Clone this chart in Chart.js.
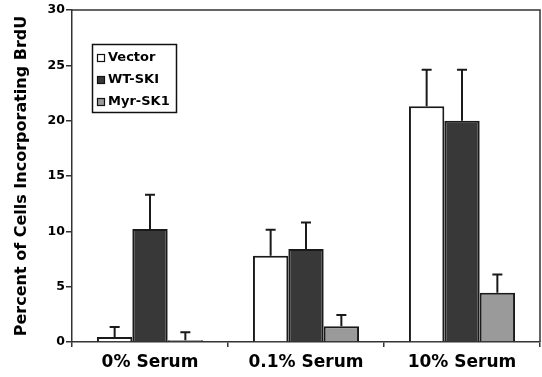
<!DOCTYPE html>
<html>
<head>
<meta charset="utf-8">
<script src="https://cdn.jsdelivr.net/npm/chart.js@4/dist/chart.umd.min.js"></script>
<style>
  body { margin: 0; background: #fff; }
  canvas { display: block; }
</style>
</head>
<body>
<canvas id="grafico" width="542" height="377"></canvas>
<script>
// dados
const categorias = ['0% Serum', '0.1% Serum', '10% Serum'];
const series = ['Vector', 'WT-SKI', 'Myr-SK1'];
const vector = [0.45, 7.8, 21.3];
const wtSk = [10.2, 8.4, 20.0];
const myrSk = [0.15, 1.42, 4.45];
// barras de erro (só para cima)
const erroVector = [0.9, 2.35, 3.3];
const erroWt = [3.1, 2.4, 4.6];
const erroMyr = [0.73, 1.02, 1.65];
const ticksY = [0, 5, 10, 15, 20, 25, 30];

const cores = ['#ffffff', '#383838', '#9a9a9a'];
const erros = [erroVector, erroWt, erroMyr];

Chart.defaults.font.family = "'DejaVu Sans', Arial, sans-serif";
Chart.defaults.font.weight = 'bold';
Chart.defaults.color = '#000';

// desenha as barras de erro
const pluginErros = {
    id: 'erros',
    afterDatasetsDraw(chart) {
        const ctx = chart.ctx;
        const y = chart.scales.y;
        ctx.save();
        ctx.strokeStyle = '#1a1a1a';
        ctx.lineWidth = 2;
        chart.data.datasets.forEach((ds, i) => {
            const meta = chart.getDatasetMeta(i);
            meta.data.forEach((barra, j) => {
                const topo = y.getPixelForValue(ds.data[j] + erros[i][j]);
                ctx.beginPath();
                ctx.moveTo(barra.x, barra.y);
                ctx.lineTo(barra.x, topo);
                ctx.moveTo(barra.x - 5, topo);
                ctx.lineTo(barra.x + 5, topo);
                ctx.stroke();
            });
        });
        ctx.restore();
    }
};

// moldura e legenda dentro da área
const pluginMoldura = {
    id: 'moldura',
    afterDraw(chart) {
        const ctx = chart.ctx;
        const a = chart.chartArea;
        ctx.save();
        ctx.strokeStyle = '#333';
        ctx.lineWidth = 1.5;
        ctx.beginPath();
        ctx.moveTo(a.left, a.top);
        ctx.lineTo(a.right, a.top);
        ctx.lineTo(a.right, a.bottom);
        ctx.stroke();

        // legenda
        ctx.lineWidth = 1.5;
        ctx.strokeStyle = '#111';
        ctx.strokeRect(92.5, 44.5, 84, 68);
        ctx.font = "bold 13px 'DejaVu Sans'";
        ctx.textBaseline = 'middle';
        chart.data.datasets.forEach((ds, i) => {
            const yy = 58 + i * 22;
            ctx.fillStyle = ds.backgroundColor;
            ctx.fillRect(97.5, yy - 3.5, 7, 7);
            ctx.lineWidth = 1.2;
            ctx.strokeRect(97.5, yy - 3.5, 7, 7);
            ctx.fillStyle = '#000';
            ctx.fillText(ds.label, 108, yy);
        });
        ctx.restore();
    }
};

new Chart(document.getElementById('grafico').getContext('2d'), {
    type: 'bar',
    data: {
        labels: categorias,
        datasets: [vector, wtSk, myrSk].map((d, i) => ({
            label: series[i],
            data: d,
            backgroundColor: cores[i],
            borderColor: '#1a1a1a',
            borderWidth: 2,
            categoryPercentage: 0.68,
            barPercentage: 1
        }))
    },
    options: {
        responsive: false,
        animation: false,
        layout: { padding: { top: 10, right: 2, left: 0, bottom: 0 } },
        plugins: {
            legend: { display: false },
            tooltip: { enabled: false }
        },
        scales: {
            x: {
                afterFit: s => { s.height = 35; },
                grid: { drawOnChartArea: false, drawTicks: true, tickLength: 5, color: '#333', lineWidth: 1.5 },
                border: { color: '#333', width: 1.5 },
                ticks: { font: { size: 17, weight: 'bold' }, padding: 5, color: '#000' }
            },
            y: {
                min: 0,
                max: 30,
                afterFit: s => { s.width = 72; },
                afterBuildTicks: s => { s.ticks = ticksY.map(v => ({ value: v })); },
                grid: { drawOnChartArea: false, drawTicks: true, tickLength: 6, color: '#333', lineWidth: 1.5 },
                border: { color: '#333', width: 1.5 },
                ticks: { font: { size: 12.5, weight: 'bold' }, padding: 1, color: '#000' },
                title: {
                    display: true,
                    text: 'Percent of Cells Incorporating BrdU',
                    font: { size: 16, weight: 'bold' },
                    color: '#000',
                    padding: { top: 12, bottom: 0 }
                }
            }
        }
    },
    plugins: [pluginErros, pluginMoldura]
});
</script>
</body>
</html>
